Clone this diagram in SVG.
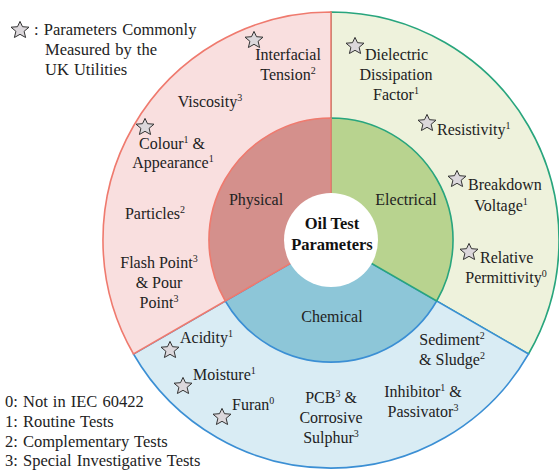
<svg xmlns="http://www.w3.org/2000/svg" width="559" height="474" viewBox="0 0 559 474" font-family="'Liberation Serif', 'DejaVu Serif', serif">
<style>
text{font-family:'Liberation Serif','DejaVu Serif',serif;font-size:16px;fill:#222}
.m{text-anchor:middle}
.b{font-weight:bold;font-size:16.5px;fill:#111}
.sup{font-size:10px}
.leg{font-size:16.5px;word-spacing:1px}
.star{fill:#dcd8dc;stroke:#333;stroke-width:1;stroke-linejoin:miter}
.pO{fill:#f9dfdf;stroke:#ef7a6e;stroke-width:1.6}
.pI{fill:#d4908c;stroke:#ef7a6e;stroke-width:1.6}
.eO{fill:#eef2dc;stroke:#28a57d;stroke-width:1.6}
.eI{fill:#b8d38f;stroke:#28a57d;stroke-width:1.6}
.cO{fill:#d9ecf4;stroke:#3b8fd4;stroke-width:1.6}
.cI{fill:#8dc6d8;stroke:#3b8fd4;stroke-width:1.6}
</style>
<defs>
<polygon id="st" class="star" points="0,-8.6 2.5,-3.3 9,-2.8 4.1,1.3 5.6,7.5 0,4.3 -5.6,7.5 -4.1,1.3 -9,-2.8 -2.5,-3.3"/>
</defs>
<rect width="559" height="474" fill="#ffffff"/>

<g id="sectors">
<path class="eO" d="M331,240 L331,12 A228,228 0 0 1 528.5,354 Z"/>
<path class="cO" d="M331,240 L133.5,354 A228,228 0 0 0 528.5,354 Z"/>
<path class="pO" d="M331,240 L331,12 A228,228 0 0 0 133.5,354 Z"/>
<path class="cI" d="M331,240 L225.3,301 A122,122 0 0 0 436.7,301 Z"/>
<path class="eI" d="M331,240 L331,118 A122,122 0 0 1 436.7,301 Z"/>
<path class="pI" d="M331,240 L331,118 A122,122 0 0 0 225.3,301 Z"/>
</g>

<g id="center">
<circle cx="331" cy="240" r="47" fill="#ffffff"/>
<text class="m b" x="332" y="229">Oil Test</text>
<text class="m b" x="332" y="250">Parameters</text>
</g>

<g id="physical"><text class="m" x="256" y="205">Physical</text></g>
<g id="electrical"><text class="m" x="406" y="205">Electrical</text></g>
<g id="chemical"><text class="m" x="332" y="322">Chemical</text></g>

<g id="legend-top">
<use href="#st" x="20" y="30"/>
<text class="leg" x="34" y="35">: Parameters  Commonly</text>
<text class="leg" x="45" y="55">Measured  by the</text>
<text class="leg" x="45" y="75">UK Utilities</text>
</g>

<g id="interfacial">
<use href="#st" x="254" y="40"/>
<text class="m" x="288" y="60">Interfacial</text>
<text class="m" x="288" y="80">Tension<tspan class="sup" dy="-6">2</tspan></text>
</g>
<g id="viscosity"><text class="m" x="210" y="107">Viscosity<tspan class="sup" dy="-6">3</tspan></text></g>
<g id="colour">
<use href="#st" x="145" y="127"/>
<text class="m" x="172" y="149">Colour<tspan class="sup" dy="-6">1</tspan><tspan dy="6"> &amp;</tspan></text>
<text class="m" x="173" y="168">Appearance<tspan class="sup" dy="-6">1</tspan></text>
</g>
<g id="particles"><text class="m" x="155" y="219">Particles<tspan class="sup" dy="-6">2</tspan></text></g>
<g id="flash">
<text class="m" x="159" y="268">Flash Point<tspan class="sup" dy="-6">3</tspan></text>
<text class="m" x="159" y="288">&amp; Pour</text>
<text class="m" x="159" y="308">Point<tspan class="sup" dy="-6">3</tspan></text>
</g>

<g id="dielectric">
<use href="#st" x="355" y="46"/>
<text x="365" y="60">Dielectric</text>
<text class="m" x="396" y="80">Dissipation</text>
<text class="m" x="396" y="100">Factor<tspan class="sup" dy="-6">1</tspan></text>
</g>
<g id="resistivity">
<use href="#st" x="427" y="123"/>
<text x="437" y="135">Resistivity<tspan class="sup" dy="-6">1</tspan></text>
</g>
<g id="breakdown">
<use href="#st" x="457" y="179"/>
<text x="468" y="190">Breakdown</text>
<text class="m" x="501" y="211">Voltage<tspan class="sup" dy="-6">1</tspan></text>
</g>
<g id="permittivity">
<use href="#st" x="469" y="252"/>
<text x="480" y="263">Relative</text>
<text class="m" x="506" y="283">Permittivity<tspan class="sup" dy="-6">0</tspan></text>
</g>

<g id="sediment">
<text class="m" x="452" y="345">Sediment<tspan class="sup" dy="-6">2</tspan></text>
<text class="m" x="452" y="365">&amp; Sludge<tspan class="sup" dy="-6">2</tspan></text>
</g>
<g id="inhibitor">
<text class="m" x="423" y="397">Inhibitor<tspan class="sup" dy="-6">1</tspan><tspan dy="6">  &amp;</tspan></text>
<text class="m" x="423" y="417">Passivator<tspan class="sup" dy="-6">3</tspan></text>
</g>
<g id="pcb">
<text class="m" x="331" y="403">PCB<tspan class="sup" dy="-6">3</tspan><tspan dy="6"> &amp;</tspan></text>
<text class="m" x="331" y="423">Corrosive</text>
<text class="m" x="331" y="443">Sulphur<tspan class="sup" dy="-6">3</tspan></text>
</g>
<g id="acidity">
<use href="#st" x="170" y="350"/>
<text x="180" y="343">Acidity<tspan class="sup" dy="-6">1</tspan></text>
</g>
<g id="moisture">
<use href="#st" x="183" y="386"/>
<text x="193" y="380">Moisture<tspan class="sup" dy="-6">1</tspan></text>
</g>
<g id="furan">
<use href="#st" x="222" y="417"/>
<text x="232" y="410">Furan<tspan class="sup" dy="-6">0</tspan></text>
</g>

<g id="legend-bottom">
<text class="leg" x="5" y="407">0: Not in IEC 60422</text>
<text class="leg" x="5" y="427">1: Routine Tests</text>
<text class="leg" x="5" y="447">2: Complementary  Tests</text>
<text class="leg" x="5" y="466">3: Special Investigative  Tests</text>
</g>
</svg>
